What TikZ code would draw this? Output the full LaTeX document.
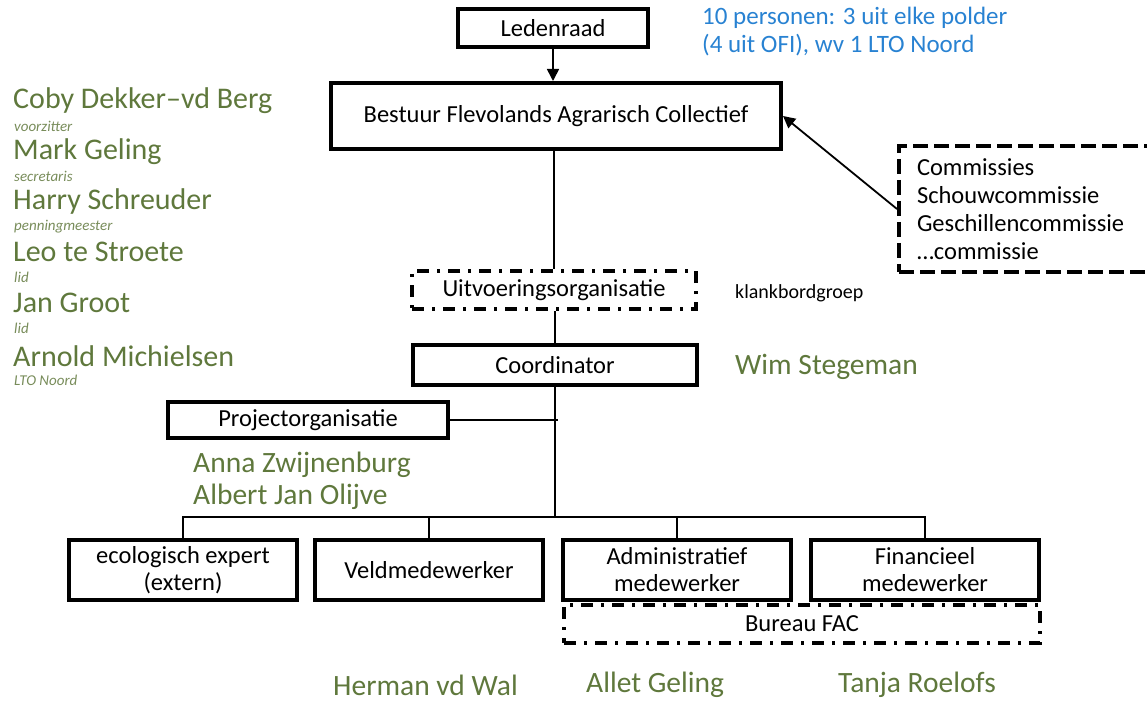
\documentclass[tikz,border=0pt]{standalone}
\usepackage{fontspec}
\setmainfont{Carlito}
\usetikzlibrary{arrows.meta}
\definecolor{nameg}{RGB}{95,120,60}
\definecolor{roleg}{RGB}{120,140,90}
\definecolor{noteb}{RGB}{40,130,210}
\tikzset{
  box/.style={draw, line width=4pt, minimum height=38pt, inner sep=0pt, font=\fontsize{24.5}{27}\selectfont, align=center},
  dashdotbox/.style={draw, line width=4pt, dash pattern=on 12pt off 8pt on 3pt off 8pt, minimum height=38pt, inner sep=0pt, font=\fontsize{24.5}{27}\selectfont},
  conn/.style={line width=1.3pt},
  bignm/.style={text=nameg, anchor=west, inner sep=0pt, font=\fontsize{30}{32}\selectfont},
  role/.style={text=roleg, anchor=west, inner sep=0pt, font=\fontsize{15}{16}\itshape},
  person/.style={text=nameg, anchor=west, inner sep=0pt, font=\fontsize{29.5}{32}\selectfont},
  plain/.style={anchor=west, inner sep=0pt, font=\fontsize{20}{22}\selectfont},
}
\begin{document}
\begin{tikzpicture}[x=1pt,y=-1pt]
\useasboundingbox (0,0) rectangle (1147,703);
% main boxes
\node[box, minimum width=190pt] (led) at (553,28) {Ledenraad};
\node[box, minimum width=450pt, minimum height=66pt] (best) at (556,116) {Bestuur Flevolands Agrarisch Collectief};
\node[dashdotbox, minimum width=284pt] (uitv) at (554,290) {Uitvoeringsorganisatie};
\node[box, minimum width=284pt, minimum height=40pt] (coord) at (555,365) {Coordinator};
\node[box, minimum width=280pt, minimum height=36pt] (proj) at (308,420) {Projectorganisatie};
\node[box, minimum width=228pt, minimum height=60pt] (eco) at (183,570) {ecologisch expert\\(extern)};
\node[box, minimum width=228pt, minimum height=60pt] (veld) at (429,570) {Veldmedewerker};
\node[box, minimum width=228pt, minimum height=60pt] (adm) at (677,570) {Administratief\\medewerker};
\node[box, minimum width=228pt, minimum height=60pt] (fin) at (925,570) {Financieel\\medewerker};
\node[dashdotbox, minimum width=476pt] (bur) at (802,624) {Bureau FAC};
\node[draw, line width=4pt, dash pattern=on 15pt off 6pt, anchor=west, minimum height=126pt,
      text width=220pt, inner xsep=18pt, inner ysep=0pt, align=left,
      font=\fontsize{24.5}{28}\selectfont] (comm) at (897,209)
      {Commissies\\Schouwcommissie\\Geschillencommissie\\\dots commissie};
% connectors
\draw[conn, line width=1.6pt, -{Triangle[length=12pt,width=12pt]}] (led.south) -- (led.south |- best.north);
\draw[conn, line width=1.8pt, -{Triangle[length=12pt,width=12pt]}] (comm.west) -- (best.east);
\draw[conn] (best.south -| uitv.north) -- (uitv.north);
\draw[conn] (uitv.south -| coord.north) -- (coord.north);
\coordinate (bus) at (555,517);
\coordinate (pj) at (558,420);
\draw[conn] (coord.south) -- (bus);
\draw[conn] (proj.east) -- (pj);
\draw[conn] (eco.north) -- (eco.north |- bus) -- (fin.north |- bus) -- (fin.north);
\draw[conn] (veld.north) -- (veld.north |- bus);
\draw[conn] (adm.north) -- (adm.north |- bus);
% side texts
\node[plain] (klank) at (735,293) {klankbordgroep};
\node[person] (wim) at (735,367) {Wim Stegeman};
\node[person] (anna) at (193,465) {Anna Zwijnenburg};
\node[person] (albert) at (193,497) {Albert Jan Olijve};
\node[person] (herman) at (333,685) {Herman vd Wal};
\node[person] (allet) at (586,685) {Allet Geling};
\node[person] (tanja) at (838,685) {Tanja Roelofs};
\node[anchor=west, inner sep=0pt, text=noteb, font=\fontsize{25}{28}\selectfont, align=left] (note) at (702,32)
  {10 personen: 3 uit elke polder\\(4 uit OFI), wv 1 LTO Noord};
% board members
\node[bignm] (n1) at (13,101) {Coby Dekker–vd Berg};
\node[role] (r1) at (14,126) {voorzitter};
\node[bignm] (n2) at (13,152) {Mark Geling};
\node[role] (r2) at (14,176) {secretaris};
\node[bignm] (n3) at (13,202) {Harry Schreuder};
\node[role] (r3) at (14,227) {penningmeester};
\node[bignm] (n4) at (13,252) {Leo te Stroete};
\node[role] (r4) at (14,277) {lid};
\node[bignm] (n5) at (13,303) {Jan Groot};
\node[role] (r5) at (14,328) {lid};
\node[bignm] (n6) at (13,356) {Arnold Michielsen};
\node[role] (r6) at (14,380) {LTO Noord};
\end{tikzpicture}
\end{document}
